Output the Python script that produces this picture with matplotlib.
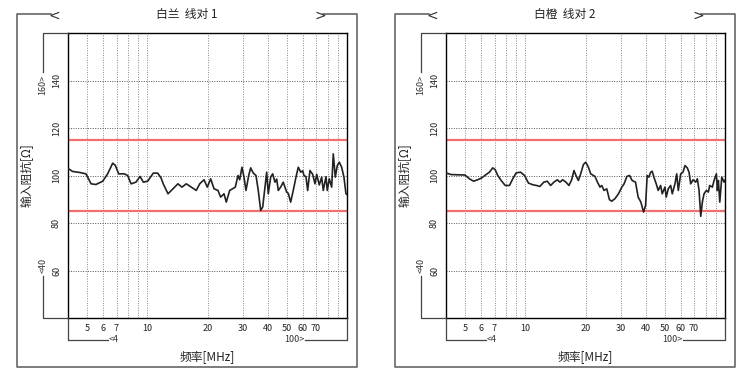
import matplotlib.pyplot as plt
from matplotlib.lines import Line2D

plt.rcParams['font.family'] = ['Noto Sans CJK SC', 'DejaVu Sans']

# pair 1 (white/blue) - frequency [MHz], impedance [ohm]
freq_pair1 = [4.0, 4.03, 4.22, 4.56, 4.92, 5.22, 5.52, 5.97, 6.32, 6.70, 6.90, 7.18, 7.66, 7.96,
              8.28, 8.76, 9.18, 9.54, 10.03, 10.70, 11.26, 11.70, 12.0, 12.68, 13.43, 14.22, 14.90,
              15.66, 16.59, 17.57, 18.28, 19.21, 19.95, 20.75, 21.56, 22.57, 23.28, 24.19, 24.84,
              25.83, 27.56, 28.43, 28.99, 29.77, 30.47, 31.18, 32.17, 32.91, 33.92, 34.99, 35.93,
              36.94, 37.81, 38.82, 39.59, 40.32, 41.45, 42.41, 43.56, 44.44, 45.26, 46.52, 47.93,
              49.85, 50.78, 52.21, 53.79, 55.51, 57.00, 58.60, 59.97, 60.88, 62.29, 63.52, 65.22,
              67.29, 69.12, 70.47, 72.63, 74.66, 76.05, 78.47, 79.65, 81.51, 83.79, 85.36, 87.37,
              89.41, 91.49, 94.00, 96.55, 98.80, 100.0]
imp_pair1 = [103.0, 102.8, 101.7, 101.3, 100.7, 96.5, 96.2, 97.6, 100.7, 105.2, 104.3, 100.7, 100.7, 100.0,
             96.5, 97.2, 99.6, 97.2, 97.6, 101.0, 101.0, 99.0, 96.5, 92.3, 94.4, 96.5, 95.1,
             96.5, 95.1, 93.7, 96.5, 98.2, 95.1, 98.6, 94.4, 93.7, 90.9, 92.3, 88.8,
             93.7, 95.1, 100.0, 98.2, 103.5, 99.3, 93.7, 100.0, 103.2, 101.0, 100.0, 93.7,
             85.3, 86.7, 95.1, 101.4, 92.3, 99.3, 100.7, 97.2, 98.5, 93.7, 95.1, 97.2,
             93.0, 92.5, 88.8, 93.7, 99.3, 103.5, 101.4, 102.0, 100.0, 99.5, 93.7, 102.1,
             100.5, 96.5, 100.5, 96.0, 99.3, 93.7, 99.5, 93.7, 98.6, 95.1, 109.1, 99.3,
             104.2, 105.6, 103.5, 99.3, 92.3, 92.0]

# pair 2 (white/orange)
freq_pair2 = [4.0, 4.24, 4.58, 4.98, 5.24, 5.50, 5.76, 6.04, 6.35, 6.60, 6.86, 7.05, 7.27, 7.56,
              7.92, 8.32, 8.64, 8.99, 9.45, 9.90, 10.36, 10.89, 11.37, 11.81, 12.37, 12.87, 13.37,
              13.89, 14.45, 14.89, 15.36, 15.96, 16.52, 17.05, 17.51, 17.92, 18.42, 18.92, 19.52,
              20.05, 20.68, 21.24, 22.32, 22.95, 23.65, 24.12, 24.77, 25.56, 26.37, 27.08, 28.14,
              29.26, 30.40, 31.22, 32.22, 33.24, 34.26, 35.62, 36.72, 37.88, 39.08, 40.0, 40.74,
              41.56, 42.40, 43.17, 44.03, 45.22, 46.27, 47.58, 48.47, 50.01, 50.77, 51.96, 53.42,
              54.43, 56.15, 57.28, 58.34, 59.98, 61.58, 63.03, 64.73, 66.02, 67.33, 69.16, 71.36,
              72.69, 74.13, 75.60, 77.01, 78.52, 80.63, 82.52, 83.86, 86.45, 88.15, 90.53, 91.58,
              92.64, 94.16, 96.36, 98.96, 100.0]
imp_pair2 = [101.1, 100.4, 100.3, 100.2, 98.6, 97.6, 98.2, 99.0, 100.4, 101.4, 103.2, 102.5, 100.0, 97.9,
             95.8, 95.8, 98.6, 101.1, 101.4, 100.0, 96.8, 96.1, 95.8, 95.4, 97.2, 97.6, 95.8,
             97.2, 98.2, 97.2, 98.2, 97.2, 95.8, 98.2, 102.1, 100.0, 97.9, 100.7, 104.6,
             105.6, 103.5, 100.7, 99.6, 97.2, 95.1, 95.8, 93.7, 94.4, 89.8, 89.2, 90.3,
             92.3, 95.1, 96.5, 99.6, 100.0, 97.9, 97.2, 90.9, 88.8, 84.6, 87.4, 100.0,
             99.3, 101.4, 101.8, 99.3, 96.5, 93.7, 95.8, 92.3, 95.1, 90.9, 94.4, 95.8,
             92.3, 96.5, 100.7, 93.7, 100.7, 101.4, 104.2, 103.2, 101.4, 96.5, 98.2, 97.2,
             98.6, 93.7, 82.8, 88.8, 92.3, 93.7, 93.0, 95.8, 95.1, 97.9, 100.7, 93.7,
             97.9, 88.8, 99.3, 97.2, 98.0]

titles = ['白兰  线对 1', '白橙  线对 2']
xtick_vals = [5, 6, 7, 10, 20, 30, 40, 50, 60, 70]
xgrid_vals = [5, 6, 7, 8, 9, 10, 20, 30, 40, 50, 60, 70, 80, 90]
ytick_vals = [60, 80, 100, 120, 140]
limits = [85, 115]

W, H = 756, 380
fig = plt.figure(figsize=(W / 100, H / 100), dpi=100)


def line(xs, ys, color='#555555', lw=1.0):
    # xs, ys in pixels from top-left
    fig.add_artist(Line2D([x / W for x in xs], [1 - y / H for y in ys],
                          transform=fig.transFigure, color=color, lw=lw))


def text(x, y, s, **kw):
    fig.text(x / W, 1 - y / H, s, **kw)


series = [(freq_pair1, imp_pair1), (freq_pair2, imp_pair2)]
for i, (f, z) in enumerate(series):
    ox = 378 * i
    ax = fig.add_axes([(ox + 68) / W, 1 - 318 / H, 279 / W, 285 / H])
    ax.set_xscale('log')
    ax.set_xlim(4, 100)
    ax.set_ylim(40, 160)
    for g in xgrid_vals:
        ax.axvline(g, color='#888888', lw=0.7, ls=(0, (1, 1.5)), zorder=1)
    for g in ytick_vals:
        ax.axhline(g, color='#555555', lw=0.7, ls=(0, (1, 1.5)), zorder=1)
    for lim in limits:
        ax.axhline(lim, color='#f07070', lw=1.6, zorder=2)
    ax.plot(f, z, color='#222222', lw=1.2, zorder=3)

    ax.set_xticks(xtick_vals)
    ax.set_xticklabels([str(v) for v in xtick_vals])
    ax.xaxis.set_minor_locator(plt.NullLocator())
    ax.set_yticks(ytick_vals)
    ax.set_yticklabels([str(v) for v in ytick_vals], rotation=90, va='center')
    ax.tick_params(length=0, labelsize=6.5, colors='#222222')
    ax.tick_params(axis='x', pad=4)
    ax.tick_params(axis='y', pad=5)
    for sp in ax.spines.values():
        sp.set_color('black')
        sp.set_linewidth(1.0)

    # outer panel frame with title
    line([ox + 51, ox + 17, ox + 17, ox + 357, ox + 357, ox + 323],
         [14, 14, 367, 367, 14, 14], color='#666666', lw=1.2)
    text(ox + 54, 14, '<', ha='center', va='center_baseline', fontsize=10,
         family='DejaVu Sans', color='#333333')
    text(ox + 320, 14, '>', ha='center', va='center_baseline', fontsize=10,
         family='DejaVu Sans', color='#333333')
    text(ox + 187, 14, titles[i], ha='center', va='center', fontsize=8.5, color='#222222')

    # y range bracket
    line([ox + 68, ox + 43, ox + 43], [33, 33, 72], color='#444444', lw=0.9)
    text(ox + 43, 85, '160>', rotation=90, ha='center', va='center', fontsize=6.5, color='#333333')
    line([ox + 68, ox + 43, ox + 43], [318, 318, 276], color='#444444', lw=0.9)
    text(ox + 43, 265, '<40', rotation=90, ha='center', va='center', fontsize=6.5, color='#333333')
    text(ox + 27, 175, '输入阻抗[Ω]', rotation=90, ha='center', va='center', fontsize=8.5,
         color='#222222')

    # x range bracket
    line([ox + 68, ox + 68, ox + 108], [318, 340, 340], color='#444444', lw=0.9)
    text(ox + 109, 340, '<4', ha='left', va='center', fontsize=6.5, color='#333333')
    line([ox + 305, ox + 347, ox + 347], [340, 340, 318], color='#444444', lw=0.9)
    text(ox + 304, 340, '100>', ha='right', va='center', fontsize=6.5, color='#333333')
    text(ox + 207, 357, '频率[MHz]', ha='center', va='center', fontsize=8.5, color='#222222')

fig.savefig('out.png', dpi=100)
